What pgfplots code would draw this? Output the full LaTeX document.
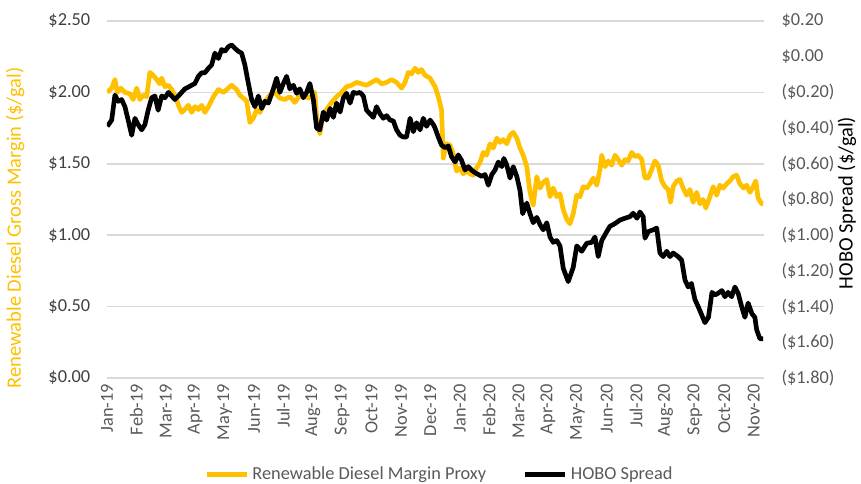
\documentclass[border=0pt]{standalone}
\usepackage{pgfplots}
\usepackage{pgfplotstable}
\pgfplotsset{compat=1.18}
\usepackage{fontspec}
\setmainfont{Carlito}
\definecolor{rdyellow}{HTML}{FFC000}
\definecolor{ticktext}{HTML}{595959}
\definecolor{lefttext}{HTML}{404040}
\definecolor{gridgray}{HTML}{D9D9D9}

% x = months since Jan-19, y = $/gal
\pgfplotstableread{
x y
0.01 2.00
0.16 2.03
0.27 2.09
0.35 2.00
0.47 2.03
0.61 2.00
0.78 1.99
0.89 1.95
1.01 2.03
1.12 1.95
1.23 1.98
1.35 1.97
1.46 2.14
1.57 2.12
1.69 2.09
1.80 2.06
1.86 2.10
1.97 2.04
2.09 2.05
2.20 2.02
2.31 1.98
2.43 1.91
2.54 1.86
2.65 1.88
2.77 1.91
2.88 1.86
2.99 1.90
3.11 1.88
3.22 1.91
3.33 1.86
3.45 1.90
3.62 1.97
3.79 2.02
3.96 2.00
4.13 2.03
4.24 2.05
4.41 2.02
4.52 1.98
4.64 1.96
4.75 1.94
4.86 1.79
4.98 1.82
5.09 1.88
5.20 1.86
5.37 1.93
5.49 1.97
5.54 1.98
5.71 2.00
5.88 1.96
6.05 1.95
6.22 1.97
6.39 1.93
6.56 1.98
6.73 1.97
6.90 1.96
7.07 2.00
7.13 1.83
7.24 1.71
7.36 1.85
7.47 1.88
7.64 1.93
7.81 1.97
7.98 2.00
8.15 2.04
8.32 2.05
8.49 2.07
8.66 2.06
8.83 2.05
9.00 2.07
9.17 2.09
9.34 2.06
9.51 2.07
9.68 2.09
9.85 2.07
10.02 2.03
10.14 2.07
10.25 2.14
10.36 2.13
10.48 2.17
10.59 2.14
10.70 2.16
10.82 2.12
10.99 2.10
11.10 2.06
11.16 2.04
11.27 1.97
11.38 1.88
11.44 1.54
11.55 1.64
11.67 1.63
11.78 1.57
11.89 1.45
12.01 1.47
12.12 1.43
12.23 1.45
12.35 1.43
12.46 1.42
12.57 1.47
12.69 1.51
12.80 1.58
12.91 1.56
13.03 1.64
13.14 1.61
13.26 1.68
13.37 1.65
13.48 1.67
13.60 1.64
13.71 1.70
13.82 1.72
13.94 1.68
14.05 1.61
14.16 1.56
14.28 1.48
14.39 1.30
14.50 1.21
14.62 1.41
14.73 1.33
14.84 1.37
14.96 1.39
15.07 1.27
15.18 1.33
15.30 1.27
15.41 1.29
15.52 1.18
15.64 1.11
15.75 1.08
15.86 1.15
15.98 1.28
16.09 1.27
16.20 1.34
16.32 1.33
16.43 1.36
16.54 1.40
16.66 1.35
16.77 1.46
16.83 1.56
16.94 1.48
17.05 1.52
17.17 1.49
17.28 1.56
17.39 1.53
17.51 1.49
17.62 1.53
17.73 1.52
17.85 1.58
17.96 1.55
18.07 1.56
18.19 1.53
18.30 1.40
18.41 1.40
18.53 1.46
18.64 1.52
18.75 1.49
18.87 1.38
18.98 1.34
19.09 1.32
19.17 1.23
19.26 1.34
19.38 1.38
19.49 1.39
19.60 1.33
19.72 1.28
19.83 1.32
19.94 1.23
20.06 1.30
20.17 1.22
20.28 1.25
20.37 1.19
20.51 1.27
20.62 1.34
20.74 1.28
20.85 1.35
20.96 1.33
21.08 1.36
21.19 1.38
21.30 1.41
21.42 1.42
21.53 1.36
21.65 1.33
21.76 1.35
21.87 1.30
21.98 1.34
22.07 1.38
22.15 1.26
22.27 1.22
22.32 1.22
}\margin

\pgfplotstableread{
x y
0.01 -0.39
0.16 -0.355
0.27 -0.215
0.38 -0.25
0.50 -0.24
0.61 -0.28
0.72 -0.355
0.84 -0.44
0.95 -0.345
1.06 -0.38
1.18 -0.41
1.29 -0.38
1.40 -0.30
1.52 -0.23
1.63 -0.22
1.74 -0.30
1.86 -0.22
1.97 -0.23
2.09 -0.20
2.20 -0.22
2.31 -0.24
2.43 -0.22
2.54 -0.20
2.65 -0.18
2.77 -0.17
2.88 -0.16
2.99 -0.15
3.11 -0.11
3.22 -0.09
3.33 -0.09
3.45 -0.065
3.56 -0.046
3.67 0.02
3.79 -0.01
3.90 0.04
4.01 0.03
4.13 0.056
4.24 0.066
4.35 0.047
4.47 0.03
4.58 0.02
4.69 -0.046
4.81 -0.15
4.92 -0.24
5.03 -0.28
5.15 -0.22
5.26 -0.29
5.37 -0.25
5.49 -0.26
5.66 -0.18
5.77 -0.12
5.88 -0.20
6.00 -0.15
6.11 -0.11
6.22 -0.18
6.34 -0.16
6.45 -0.205
6.56 -0.18
6.68 -0.23
6.79 -0.20
6.90 -0.15
7.02 -0.24
7.13 -0.40
7.24 -0.41
7.36 -0.31
7.47 -0.355
7.59 -0.29
7.70 -0.34
7.81 -0.26
7.93 -0.31
8.04 -0.23
8.15 -0.205
8.27 -0.26
8.38 -0.20
8.49 -0.205
8.61 -0.20
8.72 -0.22
8.83 -0.30
8.95 -0.32
9.06 -0.34
9.17 -0.28
9.29 -0.32
9.40 -0.345
9.51 -0.33
9.63 -0.355
9.74 -0.36
9.85 -0.41
9.97 -0.44
10.08 -0.45
10.19 -0.45
10.31 -0.345
10.42 -0.42
10.53 -0.37
10.65 -0.41
10.76 -0.345
10.87 -0.39
10.99 -0.355
11.10 -0.38
11.16 -0.40
11.27 -0.45
11.38 -0.495
11.50 -0.51
11.61 -0.50
11.72 -0.56
11.84 -0.59
11.95 -0.55
12.06 -0.58
12.18 -0.635
12.29 -0.616
12.40 -0.635
12.52 -0.65
12.63 -0.66
12.74 -0.67
12.86 -0.66
12.97 -0.72
13.09 -0.66
13.20 -0.635
13.31 -0.59
13.43 -0.616
13.50 -0.57
13.60 -0.607
13.71 -0.68
13.82 -0.616
13.94 -0.67
14.05 -0.75
14.14 -0.88
14.28 -0.82
14.39 -0.88
14.50 -0.93
14.62 -0.90
14.73 -0.94
14.84 -0.97
14.96 -0.93
15.07 -1.01
15.18 -1.04
15.30 -1.03
15.41 -1.06
15.52 -1.185
15.69 -1.26
15.86 -1.18
15.98 -1.06
16.15 -1.09
16.32 -1.045
16.49 -1.04
16.60 -1.01
16.71 -1.12
16.83 -1.03
17.00 -0.98
17.11 -0.95
17.28 -0.935
17.45 -0.915
17.62 -0.905
17.79 -0.896
17.90 -0.877
18.03 -0.905
18.13 -0.87
18.24 -0.896
18.30 -1.017
18.41 -0.98
18.58 -0.97
18.70 -0.96
18.81 -1.10
18.92 -1.12
19.04 -1.09
19.15 -1.12
19.26 -1.10
19.43 -1.12
19.55 -1.14
19.66 -1.25
19.77 -1.29
19.88 -1.27
20.00 -1.36
20.11 -1.40
20.24 -1.45
20.34 -1.49
20.46 -1.46
20.58 -1.32
20.68 -1.335
20.79 -1.325
20.92 -1.31
21.02 -1.345
21.13 -1.32
21.25 -1.345
21.36 -1.29
21.47 -1.325
21.59 -1.40
21.70 -1.46
21.81 -1.38
21.94 -1.44
22.04 -1.46
22.10 -1.53
22.21 -1.58
22.32 -1.58
}\hobo

\pgfplotsset{
  every axis/.append style={
    font=\fontsize{11}{13}\selectfont,
    scale only axis, width=394.2pt, height=214.2pt,
    xmin=0, xmax=22.35,
    major tick length=0pt,
  },
}

\begin{document}
\begin{tikzpicture}
\path[use as bounding box] (-64.2pt,-63pt) rectangle (452.4pt,226.8pt);
\begin{axis}[
  ymin=0, ymax=2.5,
  ytick={0,0.5,1,1.5,2,2.5},
  yticklabels={\$0.00,\$0.50,\$1.00,\$1.50,\$2.00,\$2.50},
  yticklabel style={text=lefttext, xshift=-6.5pt},
  xtick={0,...,22},
  xticklabels={Jan-19,Feb-19,Mar-19,Apr-19,May-19,Jun-19,Jul-19,Aug-19,Sep-19,Oct-19,Nov-19,Dec-19,Jan-20,Feb-20,Mar-20,Apr-20,May-20,Jun-20,Jul-20,Aug-20,Sep-20,Oct-20,Nov-20},
  xticklabel style={rotate=90, anchor=east, text=ticktext},
  ymajorgrids, grid style={gridgray, line width=1pt},
  axis line style={draw=none},
  ylabel={Renewable Diesel Gross Margin (\$/gal)},
  ylabel style={font=\fontsize{12.3}{14}\selectfont, text=rdyellow,
    at={(axis description cs:-0.14,0.42)}, anchor=center},
]
\addplot[rdyellow, line width=2.8pt, line join=round] table {\margin};
\end{axis}
\begin{axis}[
  axis y line*=right, axis x line=none,
  ymin=-1.8, ymax=0.2,
  ytick={-1.8,-1.6,-1.4,-1.2,-1.0,-0.8,-0.6,-0.4,-0.2,0,0.2},
  yticklabels={(\$1.80),(\$1.60),(\$1.40),(\$1.20),(\$1.00),(\$0.80),(\$0.60),(\$0.40),(\$0.20),\$0.00,\$0.20},
  yticklabel style={text=ticktext, xshift=7pt},
  axis line style={draw=none},
  ylabel={HOBO Spread (\$/gal)},
  ylabel style={font=\fontsize{12.3}{14}\selectfont,
    at={(axis description cs:1.126,0.49)}, anchor=center, rotate=0},
  legend style={at={(0.507,-0.27)}, anchor=center, draw=none, fill=none,
    text=ticktext, legend columns=2,
    /tikz/every even column/.append style={column sep=20pt}},
  legend image code/.code={\draw[#1] (0pt,0pt) -- (24pt,0pt);},
]
\addlegendimage{rdyellow, line width=2.8pt}
\addlegendentry{Renewable Diesel Margin Proxy}
\addplot[black, line width=2.8pt, line join=round] table {\hobo};
\addlegendentry{HOBO Spread}
\end{axis}
\end{tikzpicture}
\end{document}
